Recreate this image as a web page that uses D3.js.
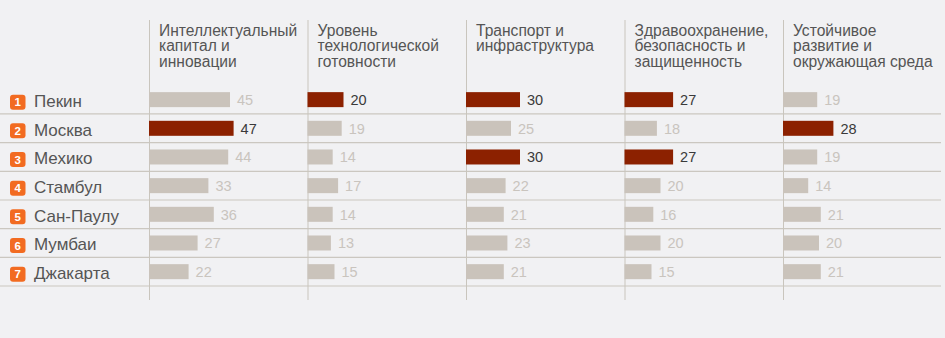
<!DOCTYPE html>
<html><head><meta charset="utf-8">
<script src="https://cdn.jsdelivr.net/npm/d3@7"></script>
<style>
html,body{margin:0;padding:0;background:#f1f1f3;}
svg{display:block;}
text{font-family:"Liberation Sans",Arial,Helvetica,sans-serif;}
</style></head>
<body>
<svg id="c" width="945" height="338"></svg>
<script>
const cities = ["Пекин","Москва","Мехико","Стамбул","Сан-Паулу","Мумбаи","Джакарта"];
const categories = [
  "Интеллектуальный|капитал и|инновации",
  "Уровень|технологической|готовности",
  "Транспорт и|инфраструктура",
  "Здравоохранение,|безопасность и|защищенность",
  "Устойчивое|развитие и|окружающая среда"
];
const intellect   = [45,47,44,33,36,27,22];
const technology  = [20,19,14,17,14,13,15];
const transport   = [30,25,30,22,21,23,21];
const health      = [27,18,27,20,16,20,15];
const environment = [19,28,19,14,21,20,21];
const series = [intellect, technology, transport, health, environment];

const svg = d3.select("#c");
const W = 945, H = 338;
svg.append("rect").attr("width",W).attr("height",H).attr("fill","#f1f1f3");

const col = d3.scalePoint().domain(d3.range(categories.length)).range([149,783]);
const row = d3.scaleBand().domain(cities).range([85.3,286]).padding(0);
const xv = d3.scaleLinear().domain([0,50]).range([0,90]);
const barH = 15;

// horizontal row lines
svg.append("g").selectAll("line").data(cities).join("line")
  .attr("x1",0).attr("x2",941)
  .attr("y1",d=>row(d)+row.bandwidth()).attr("y2",d=>row(d)+row.bandwidth())
  .attr("stroke","#cbc7c0").attr("stroke-width",1.2);

// vertical column lines
svg.append("g").selectAll("line").data(categories).join("line")
  .attr("x1",(d,i)=>col(i)+0.5).attr("x2",(d,i)=>col(i)+0.5)
  .attr("y1",20).attr("y2",300)
  .attr("stroke","#c9c5bd").attr("stroke-width",1);

// headers
const hg = svg.append("g").selectAll("text").data(categories).join("text")
  .attr("x",(d,i)=>col(i)+10).attr("y",35.5)
  .attr("fill","#555").attr("font-size",15.6);
hg.selectAll("tspan").data(d=>d.split("|")).join("tspan")
  .attr("x",function(){return this.parentNode.getAttribute("x");})
  .attr("dy",(d,i)=>i===0?0:15.7).text(d=>d);

// city labels
const cg = svg.append("g").selectAll("g").data(cities).join("g")
  .attr("transform",d=>`translate(0,${row(d)+row.bandwidth()/2})`);
cg.append("rect").attr("x",10).attr("y",-5).attr("width",15.5).attr("height",15)
  .attr("rx",3).attr("fill","#f26b21");
cg.append("text").attr("x",17.7).attr("y",6.6).attr("text-anchor","middle")
  .attr("fill","#fff").attr("font-size",11.5).attr("font-weight","bold")
  .text((d,i)=>i+1);
cg.append("text").attr("x",34).attr("y",7.2).attr("fill","#555").attr("font-size",17)
  .text(d=>d);

// bars
series.forEach((vals,ci)=>{
  const mx = d3.max(vals);
  const g = svg.append("g").attr("transform",`translate(${col(ci)},0)`);
  const items = cities.map((c,i)=>({c, v:vals[i], hi: vals[i]===mx}));
  g.selectAll("rect").data(items).join("rect")
    .attr("x",0).attr("y",d=>row(d.c)+row.bandwidth()/2-barH/2)
    .attr("width",d=>xv(d.v)).attr("height",barH)
    .attr("fill",d=>d.hi?"#8c2100":"#cac3bb");
  g.selectAll("text").data(items).join("text")
    .attr("x",d=>xv(d.v)+7).attr("y",d=>row(d.c)+row.bandwidth()/2+5.3)
    .attr("font-size",14.5)
    .attr("fill",d=>d.hi?"#3a3a3a":"#c9c4be")
    .text(d=>d.v);
});
</script>
</body></html>
